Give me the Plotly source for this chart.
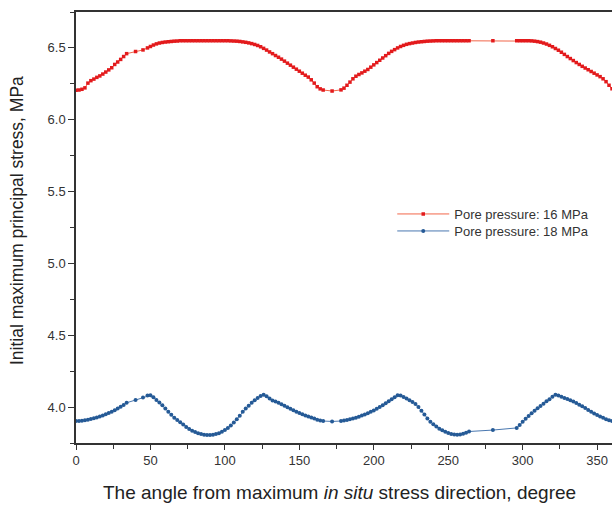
import plotly.graph_objects as go

# Angles (degree) and values for pore pressure 16 MPa
angle_16 = [0, 2, 4, 6, 8, 10, 12, 14, 16, 18, 20, 22, 24, 26, 28, 30, 32, 34,
            40, 45,
            48, 50, 52, 54, 56, 58, 60, 62, 64, 66, 68, 70, 72, 74, 76, 78, 80, 82, 84, 86, 88, 90,
            92, 94, 96, 98, 100, 102, 104, 106, 108, 110, 112, 114, 116, 118, 120, 122, 124, 126,
            128, 130, 132, 134, 136, 138, 140, 142, 144, 146, 148, 150, 152, 154, 156, 158, 160,
            162, 164, 166,
            172,
            178, 180, 182, 184, 186, 188, 190, 192, 194, 196, 198, 200, 202, 204, 206, 208, 210,
            212, 214, 216, 218, 220, 222, 224, 226, 228, 230, 232, 234, 236, 238, 240, 242, 244,
            246, 248, 250, 252, 254, 256, 258, 260, 262, 264,
            280,
            296, 298, 300, 302, 304, 306, 308, 310, 312, 314, 316, 318, 320, 322, 324, 326, 328,
            330, 332, 334, 336, 338, 340, 342, 344, 346, 348, 350, 352, 354, 356, 358, 360]
stress_16 = [6.205, 6.207, 6.212, 6.222, 6.255, 6.272, 6.283, 6.295, 6.305, 6.318, 6.332, 6.347,
             6.362, 6.385, 6.402, 6.420, 6.440, 6.460,
             6.475, 6.486,
             6.500, 6.510, 6.520, 6.528, 6.534, 6.538, 6.541, 6.543, 6.545, 6.547, 6.548, 6.55,
             6.55, 6.55, 6.55, 6.55, 6.55, 6.55, 6.55, 6.55, 6.55, 6.55,
             6.55, 6.55, 6.55, 6.55, 6.55, 6.55, 6.549, 6.548, 6.547, 6.545, 6.542, 6.539, 6.535,
             6.530, 6.524, 6.517, 6.508, 6.497,
             6.485, 6.472, 6.460, 6.447, 6.435, 6.422, 6.408, 6.394, 6.380, 6.366, 6.352, 6.338,
             6.324, 6.310, 6.297, 6.278, 6.255,
             6.230, 6.215, 6.207,
             6.200,
             6.208, 6.220, 6.240, 6.262, 6.285, 6.303, 6.315, 6.326, 6.338, 6.350, 6.366, 6.382,
             6.398, 6.414, 6.430, 6.446, 6.462,
             6.476, 6.488, 6.500, 6.510, 6.518, 6.525, 6.530, 6.534, 6.538, 6.541, 6.543, 6.545,
             6.547, 6.548, 6.549, 6.55, 6.55,
             6.55, 6.55, 6.55, 6.55, 6.55, 6.55, 6.55, 6.55, 6.55, 6.55,
             6.55,
             6.55, 6.55, 6.55, 6.55, 6.55, 6.549, 6.547, 6.544, 6.540, 6.534, 6.527, 6.518, 6.508,
             6.496, 6.484, 6.470, 6.455,
             6.440, 6.426, 6.412, 6.398, 6.385, 6.372, 6.360, 6.348, 6.336, 6.324, 6.312, 6.300,
             6.285, 6.265, 6.240, 6.215]

# Angles (degree) and values for pore pressure 18 MPa
angle_18 = angle_16
stress_18 = [3.903, 3.903, 3.905, 3.908, 3.912, 3.917, 3.922, 3.928, 3.934, 3.942, 3.950, 3.959,
             3.968, 3.978, 3.990, 4.002, 4.015, 4.030,
             4.049, 4.067,
             4.080, 4.082, 4.068, 4.050, 4.032, 4.012, 3.990, 3.968, 3.946, 3.926, 3.910, 3.895,
             3.878, 3.862, 3.848, 3.836, 3.826, 3.818, 3.812, 3.808, 3.806, 3.806,
             3.808, 3.812, 3.818, 3.828, 3.840, 3.855, 3.872, 3.892, 3.915, 3.940, 3.968, 3.990,
             4.010, 4.030, 4.048, 4.064, 4.078, 4.086,
             4.075, 4.060, 4.046, 4.038, 4.030, 4.020, 4.010, 3.999, 3.988, 3.978, 3.967, 3.958,
             3.950, 3.942, 3.935, 3.928, 3.920,
             3.912, 3.906, 3.903,
             3.900,
             3.903, 3.906, 3.910, 3.915, 3.920, 3.926, 3.933, 3.941, 3.949, 3.957, 3.967, 3.977,
             3.988, 4.000, 4.013, 4.027, 4.041,
             4.055, 4.069, 4.082, 4.080, 4.070, 4.060, 4.048, 4.036, 4.022, 4.000, 3.975, 3.948,
             3.920, 3.898, 3.880, 3.864, 3.850,
             3.838, 3.828, 3.820, 3.813, 3.809, 3.808, 3.810, 3.815, 3.822, 3.830,
             3.840,
             3.855, 3.875, 3.898, 3.918, 3.938, 3.957, 3.975, 3.992, 4.008, 4.024, 4.040, 4.055,
             4.072, 4.086, 4.080, 4.072, 4.064,
             4.056, 4.047, 4.038, 4.028, 4.017, 4.005, 3.993, 3.980, 3.968, 3.955, 3.945, 3.935,
             3.925, 3.915, 3.908, 3.903]

x_ticks = [0, 50, 100, 150, 200, 250, 300, 350]
y_ticks = [4.0, 4.5, 5.0, 5.5, 6.0, 6.5]
x_title = "The angle from maximum <i>in situ</i> stress direction, degree"
y_title = "Initial maximum principal stress, MPa"

fig = go.Figure()
fig.add_trace(go.Scatter(
    x=angle_16, y=stress_16, mode="lines+markers", name="Pore pressure: 16 MPa",
    line=dict(color="#f2664a", width=1),
    marker=dict(color="#e31a1c", size=3.5, symbol="square"),
    legend="legend",
))
fig.add_trace(go.Scatter(
    x=angle_18, y=stress_18, mode="lines+markers", name="Pore pressure: 18 MPa",
    line=dict(color="#4a78b0", width=1),
    marker=dict(color="#255a96", size=4, symbol="circle"),
    legend="legend2",
))

axis_font = dict(family="Liberation Sans, Arial, sans-serif", size=13, color="#333333")
legend_common = dict(xanchor="left", yanchor="middle", font=dict(size=13, color="#333333"),
                     bgcolor="rgba(0,0,0,0)", itemwidth=52)
fig.update_layout(
    width=612, height=506,
    margin=dict(l=76, r=0, t=12, b=63),
    paper_bgcolor="white", plot_bgcolor="white",
    font=dict(family="Liberation Sans, Arial, sans-serif", color="#333333"),
    showlegend=True,
    legend=dict(x=0.59, y=(443 - 214) / 431, **legend_common),
    legend2=dict(x=0.59, y=(443 - 231) / 431, **legend_common),
    xaxis=dict(
        range=[0, 360], tickvals=x_ticks, ticktext=[str(v) for v in x_ticks],
        showgrid=False, zeroline=False,
        showline=True, linecolor="#333333", linewidth=1.5, mirror=True,
        ticks="outside", ticklen=5, tickwidth=1.2, tickcolor="#333333",
        minor=dict(dtick=25, ticks="outside", ticklen=4, tickwidth=1.2, tickcolor="#333333", showgrid=False),
        tickfont=axis_font,
    ),
    yaxis=dict(
        range=[3.75, 6.75], tickvals=y_ticks, ticktext=[f"{v:.1f}" for v in y_ticks],
        showgrid=False, zeroline=False,
        showline=True, linecolor="#333333", linewidth=1.5, mirror=False,
        ticks="outside", ticklen=6, tickwidth=1.2, tickcolor="#333333",
        minor=dict(dtick=0.25, ticks="outside", ticklen=4, tickwidth=1.2, tickcolor="#333333", showgrid=False),
        tickfont=axis_font,
    ),
    annotations=[
        dict(text=x_title, xref="paper", yref="paper", x=(339 - 76) / 536, y=(443 - 493) / 431,
             xanchor="center", yanchor="middle", showarrow=False,
             font=dict(size=19, color="#222222", family="Liberation Sans, Arial, sans-serif")),
        dict(text=y_title, xref="paper", yref="paper", x=(17 - 76) / 536, y=(443 - 221) / 431,
             xanchor="center", yanchor="middle", showarrow=False, textangle=-90,
             font=dict(size=17.5, color="#222222", family="Liberation Sans, Arial, sans-serif")),
    ],
)

fig.write_html("out.html")
